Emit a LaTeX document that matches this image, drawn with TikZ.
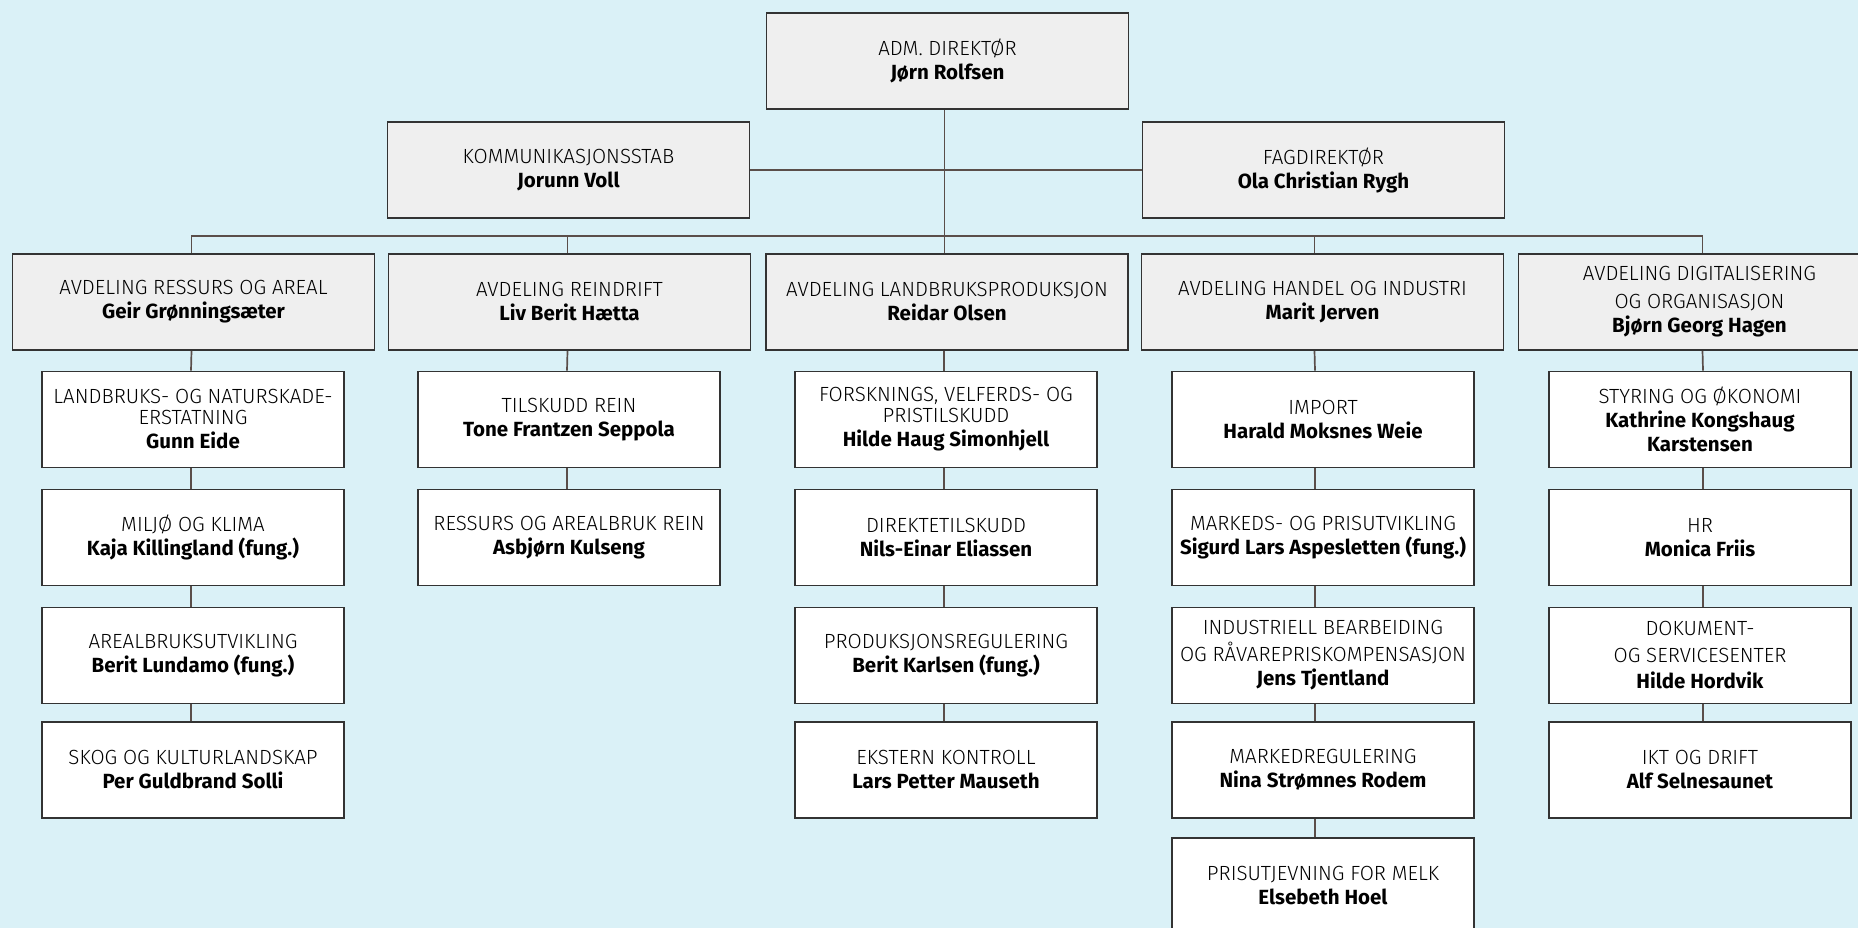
\documentclass[tikz,border=0pt]{standalone}
\usepackage{fontspec}
\setmainfont{Fira Sans}[UprightFont=* Light, BoldFont=* Bold]
\definecolor{bgc}{HTML}{DAF1F7}
\definecolor{grayfill}{HTML}{EFEFEF}
\definecolor{bordc}{HTML}{333333}
\definecolor{linec}{HTML}{5A4E4A}
\tikzset{
  box/.style={draw=bordc, line width=1.6pt, inner sep=0pt, align=center,
    font=\fontsize{20.5}{24}\selectfont, text=black},
  headbox/.style={box, fill=grayfill, minimum width=362pt, minimum height=96pt},
  unitbox/.style={box, fill=white, minimum width=302pt, minimum height=96pt},
  conn/.style={draw=linec, line width=1.7pt}
}
\newcommand{\nm}[1]{\textbf{#1}}
\begin{document}
\begin{tikzpicture}[x=1pt,y=-1pt]
\fill[bgc] (0,0) rectangle (1858,928);
\useasboundingbox (0,0) rectangle (1858,928);
\clip (0,0) rectangle (1858,928);
% top level
\node[headbox] (adm) at (947.5,61) {ADM. DIREKTØR\\\nm{Jørn Rolfsen}};
\node[headbox] (komm) at (568.5,170) {KOMMUNIKASJONSSTAB\\\nm{Jorunn Voll}};
\node[headbox] (fag) at (1323.5,170) {FAGDIREKTØR\\\nm{Ola Christian Rygh}};
% departments
\node[headbox] (d1) at (193.5,302) {AVDELING RESSURS OG AREAL\\\nm{Geir Grønningsæter}};
\node[headbox] (d2) at (569.5,302) {AVDELING REINDRIFT\\\nm{Liv Berit Hætta}};
\node[headbox] (d3) at (947,302) {AVDELING LANDBRUKSPRODUKSJON\\\nm{Reidar Olsen}};
\node[headbox] (d4) at (1322.5,302) {AVDELING HANDEL OG INDUSTRI\\\nm{Marit Jerven}};
\node[headbox] (d5) at (1699.5,302) {AVDELING DIGITALISERING\\[4pt]OG ORGANISASJON\\\nm{Bjørn Georg Hagen}};
% column 1
\node[unitbox] (a1) at (193,419.5) {LANDBRUKS- OG NATURSKADE-\\[-3pt]ERSTATNING\\\nm{Gunn Eide}};
\node[unitbox] (a2) at (193,537.5) {MILJØ OG KLIMA\\\nm{Kaja Killingland (fung.)}};
\node[unitbox] (a3) at (193,655.5) {AREALBRUKSUTVIKLING\\\nm{Berit Lundamo (fung.)}};
\node[unitbox] (a4) at (193,770) {SKOG OG KULTURLANDSKAP\\\nm{Per Guldbrand Solli}};
% column 2
\node[unitbox] (b1) at (569,419.5) {TILSKUDD REIN\\\nm{Tone Frantzen Seppola}};
\node[unitbox] (b2) at (569,537.5) {RESSURS OG AREALBRUK REIN\\\nm{Asbjørn Kulseng}};
% column 3
\node[unitbox] (c1) at (946,419.5) {FORSKNINGS, VELFERDS- OG\\[-3pt]PRISTILSKUDD\\\nm{Hilde Haug Simonhjell}};
\node[unitbox] (c2) at (946,537.5) {DIREKTETILSKUDD\\\nm{Nils-Einar Eliassen}};
\node[unitbox] (c3) at (946,655.5) {PRODUKSJONSREGULERING\\\nm{Berit Karlsen (fung.)}};
\node[unitbox] (c4) at (946,770) {EKSTERN KONTROLL\\\nm{Lars Petter Mauseth}};
% column 4
\node[unitbox] (e1) at (1323,419.5) {IMPORT\\\nm{Harald Moksnes Weie}};
\node[unitbox] (e2) at (1323,537.5) {MARKEDS- OG PRISUTVIKLING\\\nm{Sigurd Lars Aspesletten (fung.)}};
\node[unitbox] (e3) at (1323,655.5) {INDUSTRIELL BEARBEIDING\\[3pt]OG RÅVAREPRISKOMPENSASJON\\\nm{Jens Tjentland}};
\node[unitbox] (e4) at (1323,770) {MARKEDREGULERING\\\nm{Nina Strømnes Rodem}};
\node[unitbox] (e5) at (1323,886) {PRISUTJEVNING FOR MELK\\\nm{Elsebeth Hoel}};
% column 5
\node[unitbox] (f1) at (1700,419.5) {STYRING OG ØKONOMI\\\nm{Kathrine Kongshaug}\\\nm{Karstensen}};
\node[unitbox] (f2) at (1700,537.5) {HR\\\nm{Monica Friis}};
\node[unitbox] (f3) at (1700,655.5) {DOKUMENT-\\[3pt]OG SERVICESENTER\\[2pt]\nm{Hilde Hordvik}};
\node[unitbox] (f4) at (1700,770) {IKT OG DRIFT\\\nm{Alf Selnesaunet}};
% connectors
\coordinate (bus) at (0,236);
\draw[conn] ([xshift=-3pt]adm.south) -- ([xshift=-3pt]adm.south |- d3.north);
\draw[conn] (komm.east) -- (fag.west);
\draw[conn] ([xshift=-2pt]d1.north) -- ([xshift=-2pt]d1.north |- bus) -- ([xshift=3pt]d5.north |- bus) -- ([xshift=3pt]d5.north);
\draw[conn] ([xshift=-2pt]d2.north) -- ([xshift=-2pt]d2.north |- bus);
\draw[conn] ([xshift=-8pt]d4.north) -- ([xshift=-8pt]d4.north |- bus);
% column chains
\draw[conn] ([xshift=-2pt]d1.south) -- ([xshift=-2pt]a1.north);
\draw[conn] ([xshift=-2pt]a1.south) -- ([xshift=-2pt]a2.north);
\draw[conn] ([xshift=-2pt]a2.south) -- ([xshift=-2pt]a3.north);
\draw[conn] ([xshift=-2pt]a3.south) -- ([xshift=-2pt]a4.north);
\draw[conn] ([xshift=-2pt]d2.south) -- ([xshift=-2pt]b1.north);
\draw[conn] ([xshift=-2pt]b1.south) -- ([xshift=-2pt]b2.north);
\draw[conn] ([xshift=-3pt]d3.south) -- ([xshift=-2pt]c1.north);
\draw[conn] ([xshift=-2pt]c1.south) -- ([xshift=-2pt]c2.north);
\draw[conn] ([xshift=-2pt]c2.south) -- ([xshift=-2pt]c3.north);
\draw[conn] ([xshift=-2pt]c3.south) -- ([xshift=-2pt]c4.north);
\draw[conn] ([xshift=-8pt]d4.south) -- ([xshift=-8pt]e1.north);
\draw[conn] ([xshift=-8pt]e1.south) -- ([xshift=-8pt]e2.north);
\draw[conn] ([xshift=-8pt]e2.south) -- ([xshift=-8pt]e3.north);
\draw[conn] ([xshift=-8pt]e3.south) -- ([xshift=-8pt]e4.north);
\draw[conn] ([xshift=-8pt]e4.south) -- ([xshift=-8pt]e5.north);
\draw[conn] ([xshift=3pt]d5.south) -- ([xshift=3pt]f1.north);
\draw[conn] ([xshift=3pt]f1.south) -- ([xshift=3pt]f2.north);
\draw[conn] ([xshift=3pt]f2.south) -- ([xshift=3pt]f3.north);
\draw[conn] ([xshift=3pt]f3.south) -- ([xshift=3pt]f4.north);
\end{tikzpicture}
\end{document}
